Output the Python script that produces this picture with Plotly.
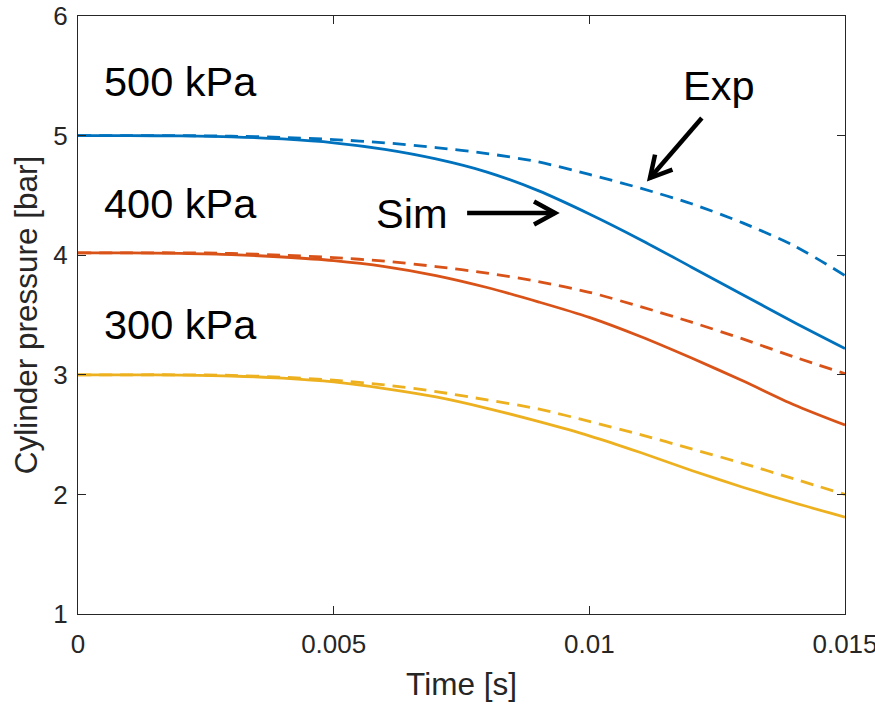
import plotly.graph_objects as go
import math

time_s = [0.0, 0.001, 0.002, 0.003, 0.004, 0.005, 0.006, 0.007, 0.008,
          0.009, 0.010, 0.011, 0.012, 0.013, 0.014, 0.015]

sim_500 = [5.00, 5.00, 4.997, 4.99, 4.972, 4.94, 4.885, 4.805, 4.695,
           4.54, 4.345, 4.13, 3.90, 3.67, 3.44, 3.22]
exp_500 = [5.00, 5.00, 5.00, 4.995, 4.985, 4.967, 4.94, 4.90, 4.85,
           4.78, 4.675, 4.56, 4.43, 4.27, 4.08, 3.83]
sim_400 = [4.02, 4.02, 4.015, 4.005, 3.985, 3.955, 3.905, 3.83, 3.73,
           3.61, 3.48, 3.32, 3.14, 2.95, 2.75, 2.58]
exp_400 = [4.02, 4.02, 4.02, 4.015, 4.00, 3.98, 3.95, 3.905, 3.85,
           3.78, 3.69, 3.57, 3.44, 3.30, 3.15, 3.01]
sim_300 = [3.00, 3.00, 2.997, 2.99, 2.972, 2.94, 2.885, 2.815, 2.72,
           2.61, 2.49, 2.35, 2.20, 2.06, 1.93, 1.81]
exp_300 = [3.00, 3.00, 3.00, 2.995, 2.98, 2.955, 2.915, 2.86, 2.79,
           2.715, 2.61, 2.50, 2.38, 2.26, 2.13, 2.00]

x_ticks = [0, 0.005, 0.01, 0.015]
x_tick_labels = ["0", "0.005", "0.01", "0.015"]
y_ticks = [1, 2, 3, 4, 5, 6]

pressure_labels = ["500 kPa", "400 kPa", "300 kPa"]
pressure_label_y = [5.45, 4.43, 3.42]

colors = ["#0072BD", "#D95319", "#EDB120"]

W, H = 875, 704
ML, MR, MT, MB = 78, 30, 16, 90
X_RANGE = [0, 0.015]
Y_RANGE = [1, 6]
px_per_x = (W - ML - MR) / (X_RANGE[1] - X_RANGE[0])
px_per_y = (H - MT - MB) / (Y_RANGE[1] - Y_RANGE[0])

fig = go.Figure()
for sim, exp, c in [(sim_500, exp_500, colors[0]),
                    (sim_400, exp_400, colors[1]),
                    (sim_300, exp_300, colors[2])]:
    fig.add_trace(go.Scatter(x=time_s, y=sim, mode="lines",
                             line=dict(color=c, width=2.8, shape="spline", smoothing=0.8),
                             showlegend=False))
    fig.add_trace(go.Scatter(x=time_s, y=exp, mode="lines",
                             line=dict(color=c, width=2.8, shape="spline", smoothing=0.8,
                                       dash="13px,8px"),
                             showlegend=False))

FONT = "Liberation Sans, Arial, sans-serif"
font_big = dict(family=FONT, size=41.5, color="black")

for label, yv in zip(pressure_labels, pressure_label_y):
    fig.add_annotation(x=0.00047, y=yv, xref="x", yref="y", text=label,
                       showarrow=False, xanchor="left", yanchor="middle",
                       font=font_big)

fig.add_annotation(x=0.00578, y=4.35, xref="x", yref="y", text="Sim",
                   showarrow=False, xanchor="left", yanchor="middle", font=font_big)
fig.add_annotation(x=0.01180, y=5.42, xref="x", yref="y", text="Exp",
                   showarrow=False, xanchor="left", yanchor="middle", font=font_big)

# arrows (tail -> head) in data units, drawn with open V heads
arrows = [((0.00761, 4.353), (0.00933, 4.353)),
          ((0.01220, 5.147), (0.011186, 4.645))]


def to_px(x, y):
    return x * px_per_x, y * px_per_y


def to_data(px, py):
    return px / px_per_x, py / px_per_y


for (tx, ty), (hx, hy) in arrows:
    fig.add_shape(type="line", x0=tx, y0=ty, x1=hx, y1=hy, xref="x", yref="y",
                  line=dict(color="black", width=4.5))
    tpx, tpy = to_px(tx, ty)
    hpx, hpy = to_px(hx, hy)
    ang = math.atan2(tpy - hpy, tpx - hpx)
    L = 24
    path = []
    for da in (0.5, -0.5):
        a = ang + da
        ex, ey = to_data(hpx + L * math.cos(a), hpy + L * math.sin(a))
        path.append((ex, ey))
    d = f"M {path[0][0]} {path[0][1]} L {hx} {hy} L {path[1][0]} {path[1][1]}"
    fig.add_shape(type="path", path=d, xref="x", yref="y",
                  line=dict(color="black", width=4.5))

axis_common = dict(showline=True, linecolor="#262626", linewidth=1, mirror="ticks",
                   ticks="inside", ticklen=8, tickwidth=1, tickcolor="#262626",
                   showgrid=False, zeroline=False, automargin=False,
                   ticklabeloverflow="allow",
                   tickfont=dict(family=FONT, size=26, color="#262626"))

fig.update_xaxes(range=X_RANGE, tickvals=x_ticks, ticktext=x_tick_labels,
                 ticklabelstandoff=7,
                 title=dict(text="Time [s]", standoff=14,
                            font=dict(family=FONT, size=31.5, color="#262626")),
                 **axis_common)
fig.update_yaxes(range=Y_RANGE, tickvals=y_ticks, ticklabelstandoff=4,
                 title=dict(text="Cylinder pressure [bar]", standoff=6,
                            font=dict(family=FONT, size=31.5, color="#262626")),
                 **axis_common)

fig.update_layout(width=W, height=H, margin=dict(l=ML, r=MR, t=MT, b=MB),
                  plot_bgcolor="white", paper_bgcolor="white")

fig.write_html("out.html", config={"displayModeBar": False},
               post_script="document.body.style.margin='0';document.body.style.overflow='hidden';")
